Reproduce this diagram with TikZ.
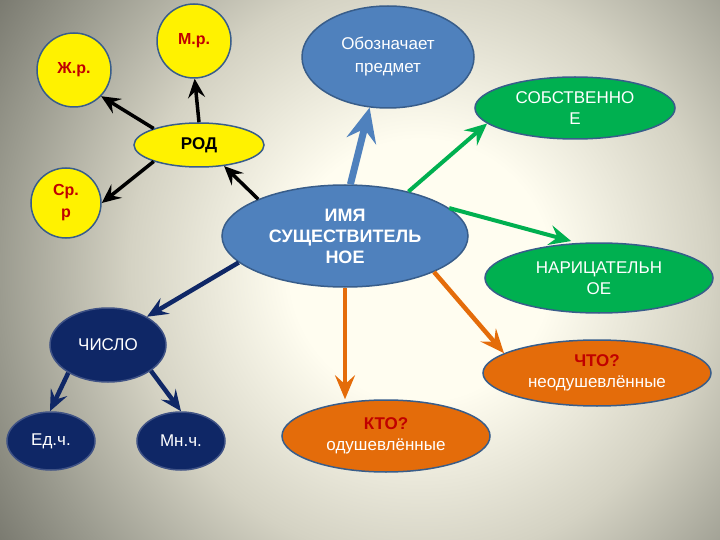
\documentclass[tikz,border=0pt]{standalone}
\usepackage{fontspec}
\setmainfont{Liberation Sans}
\usetikzlibrary{shapes.geometric,arrows.meta}
\definecolor{nounblue}{HTML}{4F81BD}
\definecolor{rimblue}{HTML}{385D8A}
\definecolor{kindgreen}{HTML}{00B050}
\definecolor{askorange}{HTML}{E46C0A}
\definecolor{numnavy}{HTML}{0F2766}
\definecolor{asktext}{HTML}{C00000}
\definecolor{glowin}{RGB}{255,253,240}
\definecolor{glowmid}{RGB}{212,210,195}
\definecolor{glowdim}{RGB}{155,155,143}
\definecolor{glowout}{RGB}{105,105,96}
\pgfdeclareradialshading{glow}{\pgfpoint{0bp}{0bp}}{color(0bp)=(glowin); color(130bp)=(glowin); color(290bp)=(glowmid); color(420bp)=(glowdim); color(540bp)=(glowout)}
\tikzset{
  oval/.style={ellipse,draw=rimblue,line width=1.5pt,inner sep=0pt,align=center,
    font=\fontsize{17}{21}\selectfont},
  nounoval/.style={oval,fill=nounblue,text=white},
  kindoval/.style={oval,fill=kindgreen,text=white},
  askoval/.style={oval,fill=askorange,text=white},
  numoval/.style={oval,fill=numnavy,draw=numnavy!80!white,text=white},
  rodoval/.style={oval,fill=yellow,text=black,font=\fontsize{17}{21}\selectfont\bfseries},
  genball/.style={circle,draw=rimblue,line width=1.5pt,fill=yellow,inner sep=0pt,
    minimum size=74pt,align=center,text=asktext,font=\fontsize{16}{22}\selectfont\bfseries},
  blackarr/.style={-{Stealth[length=19pt,width=17pt,inset=7pt]},line width=3.5pt,black},
  bluearr/.style={-{Stealth[length=34pt,width=30pt,inset=12pt]},line width=7pt,nounblue},
  greenarr/.style={-{Stealth[length=22pt,width=20pt,inset=8pt]},line width=4pt,kindgreen},
  orangearr/.style={-{Stealth[length=24pt,width=20pt,inset=9pt]},line width=4.5pt,askorange},
  navyarr/.style={-{Stealth[length=21pt,width=18pt,inset=8pt]},line width=4.5pt,numnavy}
}
\begin{document}
\begin{tikzpicture}[x=1pt,y=-1pt]
\useasboundingbox (0,0) rectangle (720,540);
\begin{scope}
\clip (0,0) rectangle (720,540);
\node[inner sep=0pt] (glowbg) at (420,270) {\pgfuseshading{glow}};
\end{scope}
% nodes
\node[nounoval,minimum width=246pt,minimum height=102pt,
  font=\fontsize{18}{21}\selectfont\bfseries] (noun) at (345,236) {ИМЯ\\СУЩЕСТВИТЕЛЬ\\НОЕ};
\node[nounoval,minimum width=172pt,minimum height=102pt,
  font=\fontsize{17}{23}\selectfont] (mean) at (388,57) {Обозначает\\предмет};
\node[kindoval,minimum width=200pt,minimum height=62pt] (own) at (575,108) {СОБСТВЕННО\\Е};
\node[kindoval,minimum width=228pt,minimum height=70pt] (common) at (599,278) {НАРИЦАТЕЛЬН\\ОЕ};
\node[askoval,minimum width=228pt,minimum height=66pt] (what) at (597,373)
  {\textcolor{asktext}{\bfseries ЧТО?}\\неодушевлённые};
\node[askoval,minimum width=208pt,minimum height=72pt] (who) at (386,436)
  {\textcolor{asktext}{\bfseries КТО?}\\одушевлённые};
\node[numoval,minimum width=116pt,minimum height=74pt] (number) at (108,345) {ЧИСЛО};
\node[numoval,minimum width=88pt,minimum height=58pt] (sing) at (51,441) {Ед.ч.};
\node[numoval,minimum width=88pt,minimum height=58pt] (plur) at (181,441) {Мн.ч.};
\node[rodoval,minimum width=130pt,minimum height=44pt] (gender) at (199,145) {РОД};
\node[genball] (masc) at (194,41) {М.р.};
\node[genball] (fem) at (74,70) {Ж.р.};
\node[genball,minimum size=70pt] (neut) at (66,203) {Ср.\\р};
% arrows
\draw[blackarr] (noun.157) -- (gender.-40);
\draw[blackarr] (gender.90) -- (masc.-89);
\draw[blackarr] (gender.160) -- (fem.-44);
\draw[blackarr] (gender.200) -- (neut.0);
\draw[bluearr] (noun.84) -- (mean.250);
\draw[greenarr] (noun.35) -- (own.190);
\draw[greenarr,shorten >=7pt] (noun.15) -- (common.121);
\draw[orangearr] (noun.-22) -- (what.168);
\draw[orangearr] (noun.south) -- (noun.south |- who.north);
\draw[navyarr] (noun.194) -- (number.36);
\draw[navyarr] (number.215) -- (sing.92);
\draw[navyarr] (number.-31) -- (plur.90);
\end{tikzpicture}
\end{document}
